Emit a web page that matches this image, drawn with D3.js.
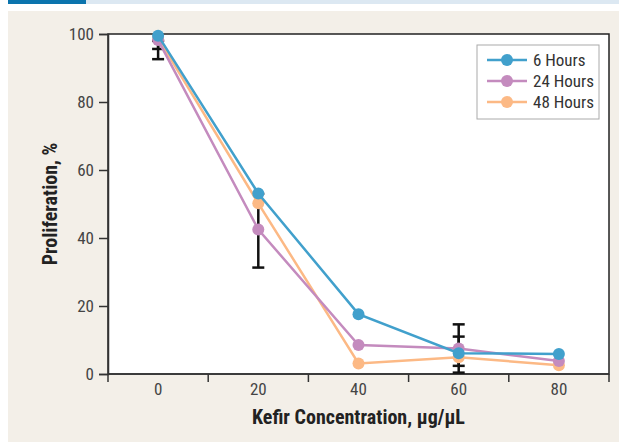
<!DOCTYPE html>
<html>
<head>
<meta charset="utf-8">
<script src="https://cdn.jsdelivr.net/npm/d3@7"></script>
<style>
  body { margin: 0; background: #fff; }
  text { font-family: "Liberation Sans Narrow", "Arial Narrow", "Roboto Condensed", sans-serif; }
</style>
</head>
<body>
<script>
const width = 619
const height = 442

// data
const concentrations = [0, 20, 40, 60, 80]
const yTicks = [0, 20, 40, 60, 80, 100]
const seriesNames = ['6 Hours', '24 Hours', '48 Hours']
const hours6 = [99.5, 53.1, 17.6, 6.1, 5.9]
const hours24 = [98.2, 42.5, 8.5, 7.5, 3.8]
const hours48 = [98.8, 50.2, 3.1, 4.9, 2.6]
const colors = ['#41a0cc', '#c48bbe', '#fcb985']

// error bars (only partly visible behind the markers)
const errX = [0, 0, 20, 60, 60]
const errLo = [92.6, 95.6, 31.3, 2.4, 0.4]
const errHi = [98, 98, 53, 14.6, 11]

const x0 = 108, x1 = 609, yTop = 34, yBot = 374

var svg = d3.select('body').append('svg')
    .attr('width', width)
    .attr('height', height)

// header strip + panel background
svg.append('rect').attr('x', 8).attr('y', 0).attr('width', 78).attr('height', 4).style('fill', '#0b74ad')
svg.append('rect').attr('x', 86).attr('y', 0).attr('width', width - 86).attr('height', 4).style('fill', '#dce8f2')
svg.append('rect').attr('x', 8).attr('y', 11).attr('width', width - 8).attr('height', height - 11).style('fill', '#f3efe8')

let x = d3.scaleBand().domain(concentrations).range([x0, x1])
let y = d3.scaleLinear().domain([0, 100]).range([yBot, yTop])
let cx = d => x(d) + x.bandwidth() / 2

// plot box
svg.append('rect')
    .attr('x', x0).attr('y', yTop)
    .attr('width', x1 - x0).attr('height', yBot - yTop)
    .style('fill', '#fff')
    .style('stroke', '#222')
    .style('stroke-width', 1.5)

// y axis
let yAxis = svg.append('g')
    .attr('transform', `translate(${x0},0)`)
    .call(d3.axisLeft(y).tickValues(yTicks).tickSize(9).tickPadding(5))
yAxis.select('.domain').style('stroke', '#333').style('stroke-width', 1.5)
yAxis.selectAll('line').style('stroke', '#333').style('stroke-width', 1.5)
yAxis.selectAll('text').style('font-size', '17px').style('fill', '#444')

// x axis: labels in band centres, ticks at band edges
let xAxis = svg.append('g')
    .attr('transform', `translate(0,${yBot})`)
    .call(d3.axisBottom(x).tickSize(0).tickPadding(9))
xAxis.select('.domain').remove()
xAxis.selectAll('text').style('font-size', '17px').style('fill', '#444')
svg.append('line')
    .attr('x1', x0).attr('x2', x1).attr('y1', yBot).attr('y2', yBot)
    .style('stroke', '#333').style('stroke-width', 1.5)
let edges = concentrations.map(d => x(d)).concat([x1])
svg.selectAll('.edge').data(edges).enter().append('line')
    .attr('x1', d => d).attr('x2', d => d)
    .attr('y1', yBot).attr('y2', yBot + 8)
    .style('stroke', '#333').style('stroke-width', 1.5)

// axis titles
svg.append('text')
    .attr('x', (x0 + x1) / 2).attr('y', 424)
    .attr('text-anchor', 'middle')
    .style('font-size', '20px').style('font-weight', 'bold').style('fill', '#222')
    .text('Kefir Concentration, \u00b5g/\u00b5L')
svg.append('text')
    .attr('transform', `translate(57,${(yTop + yBot) / 2}) rotate(-90)`)
    .attr('text-anchor', 'middle')
    .style('font-size', '20px').style('font-weight', 'bold').style('fill', '#222')
    .text('Proliferation, %')

// error bars
let errs = errX.map((d, i) => ({x: d, lo: errLo[i], hi: errHi[i]}))
let eb = svg.selectAll('.err').data(errs).enter().append('g')
eb.append('line')
    .attr('x1', d => cx(d.x)).attr('x2', d => cx(d.x))
    .attr('y1', d => y(d.lo)).attr('y2', d => y(d.hi))
    .style('stroke', '#111').style('stroke-width', 2.5)
eb.append('line')
    .attr('x1', d => cx(d.x) - 6).attr('x2', d => cx(d.x) + 6)
    .attr('y1', d => y(d.lo)).attr('y2', d => y(d.lo))
    .style('stroke', '#111').style('stroke-width', 2.5)
eb.append('line')
    .attr('x1', d => cx(d.x) - 6).attr('x2', d => cx(d.x) + 6)
    .attr('y1', d => y(d.hi)).attr('y2', d => y(d.hi))
    .style('stroke', '#111').style('stroke-width', 2.5)

// series, drawn back to front
let allSeries = [hours6, hours24, hours48]
let line = d3.line().x((d, i) => cx(concentrations[i])).y(d => y(d))
for (let s = allSeries.length - 1; s >= 0; s--) {
    svg.append('path')
        .datum(allSeries[s])
        .attr('d', line)
        .style('fill', 'none')
        .style('stroke', colors[s])
        .style('stroke-width', 2.5)
    svg.selectAll('.pt' + s).data(allSeries[s]).enter().append('circle')
        .attr('cx', (d, i) => cx(concentrations[i]))
        .attr('cy', d => y(d))
        .attr('r', 6)
        .style('fill', colors[s])
}

// legend
let lg = svg.append('g')
lg.append('rect')
    .attr('x', 477).attr('y', 45).attr('width', 122).attr('height', 74)
    .style('fill', '#fff').style('stroke', '#aaa').style('stroke-width', 1)
seriesNames.forEach((name, i) => {
    let ly = 60 + i * 21
    lg.append('line')
        .attr('x1', 487).attr('x2', 527).attr('y1', ly).attr('y2', ly)
        .style('stroke', colors[i]).style('stroke-width', 2.5)
    lg.append('circle').attr('cx', 507).attr('cy', ly).attr('r', 6).style('fill', colors[i])
    lg.append('text')
        .attr('x', 533).attr('y', ly + 6)
        .style('font-size', '17px').style('fill', '#333')
        .text(name)
})
</script>
</body>
</html>
